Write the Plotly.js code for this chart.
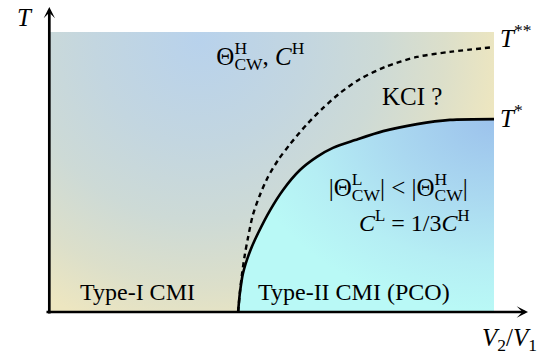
<!DOCTYPE html>
<html>
<head>
<meta charset="utf-8">
<script src="https://cdn.plot.ly/plotly-3.0.1.min.js"></script>
<style>html,body{margin:0;padding:0;background:#fff;}#chart{width:548px;height:356px;}</style>
</head>
<body>
<div id="chart"></div>
<script>
// ---- data (x: V2/V1, y: T, both in units of the drawn box) ----
const tStarX  = [0.425,0.429,0.436,0.452,0.470,0.497,0.526,0.564,0.602,0.638,0.688,0.751,0.827,0.901,1.0];
const tStarY  = [0,0.068,0.139,0.218,0.282,0.364,0.436,0.507,0.554,0.586,0.614,0.646,0.671,0.686,0.689];
const tStar2X = [0.425,0.429,0.434,0.440,0.447,0.458,0.474,0.492,0.515,0.542,0.580,0.616,0.654,0.699,0.755,0.827,0.901,1.0];
const tStar2Y = [0,0.071,0.139,0.204,0.264,0.346,0.418,0.482,0.543,0.600,0.671,0.729,0.782,0.832,0.875,0.911,0.929,0.946];
const curveLabels = ['<i>T</i><sup>*</sup>', '<i>T</i><sup>**</sup>'];
const regionLabels = ['Type-I CMI', 'Type-II CMI (PCO)', 'KCI ?'];
const axisLabels = ['<i>V</i><sub>2</sub>/<i>V</i><sub>1</sub>', '<i>T</i>'];

// ---- styles ----
const FONT = 'Liberation Serif';
const upperScale = [[0,'#b8d2ec'],[0.35,'#c3d6e0'],[0.6,'#cddad6'],[0.82,'#dcdfca'],[1,'#ede6c0']];
const lowerScale = [[0,'#9cc2ec'],[0.4,'#aad8f0'],[0.75,'#b5eef4'],[1,'#b9f9f6']];

// background polygon whose bounding box centres the radial gradient
const bgC = {x: 0.339, y: 0.971, rx: 0.674, ry: 1.071};
const bgX = [bgC.x-bgC.rx, bgC.x+bgC.rx, bgC.x+bgC.rx, bgC.x-bgC.rx];
const bgY = [bgC.y-bgC.ry, bgC.y-bgC.ry, bgC.y+bgC.ry, bgC.y+bgC.ry];

// lower region: below T*, extended outside the box so the gradient centres at its top-right corner
const x0 = tStarX[0], xe = tStarX[tStarX.length-1], ye = tStarY[tStarY.length-1];
const xMax = xe + (xe - x0), yMax = 2*ye;
const lowX = tStarX.concat([xe, xMax, xMax]);
const lowY = tStarY.concat([yMax, yMax, 0]);

const traces = [
  {x: bgX, y: bgY, mode:'lines', fill:'toself', line:{width:0, color:'rgba(0,0,0,0)'},
   fillcolor:'#cddad6', fillgradient:{type:'radial', colorscale: upperScale}, hoverinfo:'skip'},
  {x: lowX, y: lowY, mode:'lines', fill:'toself', line:{width:0, color:'rgba(0,0,0,0)'},
   fillcolor:'#b5eef4', fillgradient:{type:'radial', colorscale: lowerScale}, hoverinfo:'skip'},
  {x: tStar2X, y: tStar2Y, mode:'lines', line:{color:'#000', width:2.4, dash:'5px,4px', shape:'spline', smoothing:0.8}, hoverinfo:'skip'},
  {x: tStarX, y: tStarY, mode:'lines', line:{color:'#000', width:2.6, shape:'spline', smoothing:0.8}, hoverinfo:'skip'}
];

function txt(text, x, y, xanchor, size) {
  return {text: text, x: x, y: y, xref:'paper', yref:'paper', xanchor: xanchor||'center', yanchor:'middle',
          showarrow:false, font:{family: FONT, size: size||24, color:'#000'}};
}
function arrow(x, y, ax, ay) {
  return {text:'', x:x, y:y, xref:'paper', yref:'paper', ax:ax, ay:ay, axref:'pixel', ayref:'pixel',
          showarrow:true, arrowhead:3, arrowsize:0.7, arrowwidth:2.7, arrowcolor:'#000', standoff:0, startstandoff:0};
}

const annotations = [
  arrow(1.0764, 0, -483, 0),
  arrow(0.0007, 1.0893, 0, 308),
  txt(axisLabels[1], -0.053, 1.05, 'center', 25),
  txt(axisLabels[0], 1.034, -0.098, 'center', 25),
  txt(curveLabels[1], 1.010, 0.985, 'left', 25),
  txt(curveLabels[0], 1.010, 0.70, 'left', 25),
  txt('Θ<sub>CW</sub><sup>H</sup>, <i>C</i><sup>H</sup>', 0.476, 0.915, 'center', 25),
  txt(regionLabels[2], 0.816, 0.768, 'center', 25),
  txt('|Θ<sub>CW</sub><sup>L</sup>| &lt; |Θ<sub>CW</sub><sup>H</sup>|', 0.786, 0.447, 'center', 25),
  txt('<i>C</i><sup>L</sup> = 1/3<i>C</i><sup>H</sup>', 0.821, 0.325, 'center', 24),
  txt(regionLabels[0], 0.198, 0.071, 'center', 24),
  txt(regionLabels[1], 0.685, 0.071, 'center', 24)
];

const layout = {
  width:548, height:356,
  margin:{l:49, r:54, t:32, b:44, pad:0},
  paper_bgcolor:'#fff', plot_bgcolor:'#fff',
  showlegend:false,
  xaxis:{range:[0,1], showgrid:false, zeroline:false, showticklabels:false, ticks:'', showline:false, fixedrange:true},
  yaxis:{range:[0,1], showgrid:false, zeroline:false, showticklabels:false, ticks:'', showline:false, fixedrange:true},
  annotations: annotations
};

// stack a superscript directly above the subscript that precedes it (like TeX's X_a^b)
function stackScripts(gd) {
  const texts = gd.querySelectorAll('.annotation-text');
  texts.forEach(function(t) {
    const spans = Array.prototype.slice.call(t.querySelectorAll('tspan'));
    for (let i = 0; i < spans.length; i++) {
      const s = spans[i];
      const st = s.getAttribute('style') || '';
      const dy = parseFloat(s.getAttribute('dy') || '0');
      if (st.indexOf('70%') >= 0 && dy > 0 && s.textContent.replace('\u200b','').length) {
        const r = spans[i+1], p = spans[i+2], r2 = spans[i+3];
        if (p && (p.getAttribute('style')||'').indexOf('70%') >= 0 && parseFloat(p.getAttribute('dy')||'0') < 0) {
          const subLen = s.getComputedTextLength();
          const supLen = p.getComputedTextLength();
          const rLen = r ? r.getComputedTextLength() : 0;
          p.setAttribute('dx', -(subLen + rLen));
          if (r2 && subLen > supLen) r2.setAttribute('dx', subLen - supLen);
        }
      }
    }
  });
}

Plotly.newPlot('chart', traces, layout, {staticPlot:true, displayModeBar:false}).then(function(gd) {
  try { stackScripts(gd); } catch (e) {}
});
</script>
</body>
</html>
